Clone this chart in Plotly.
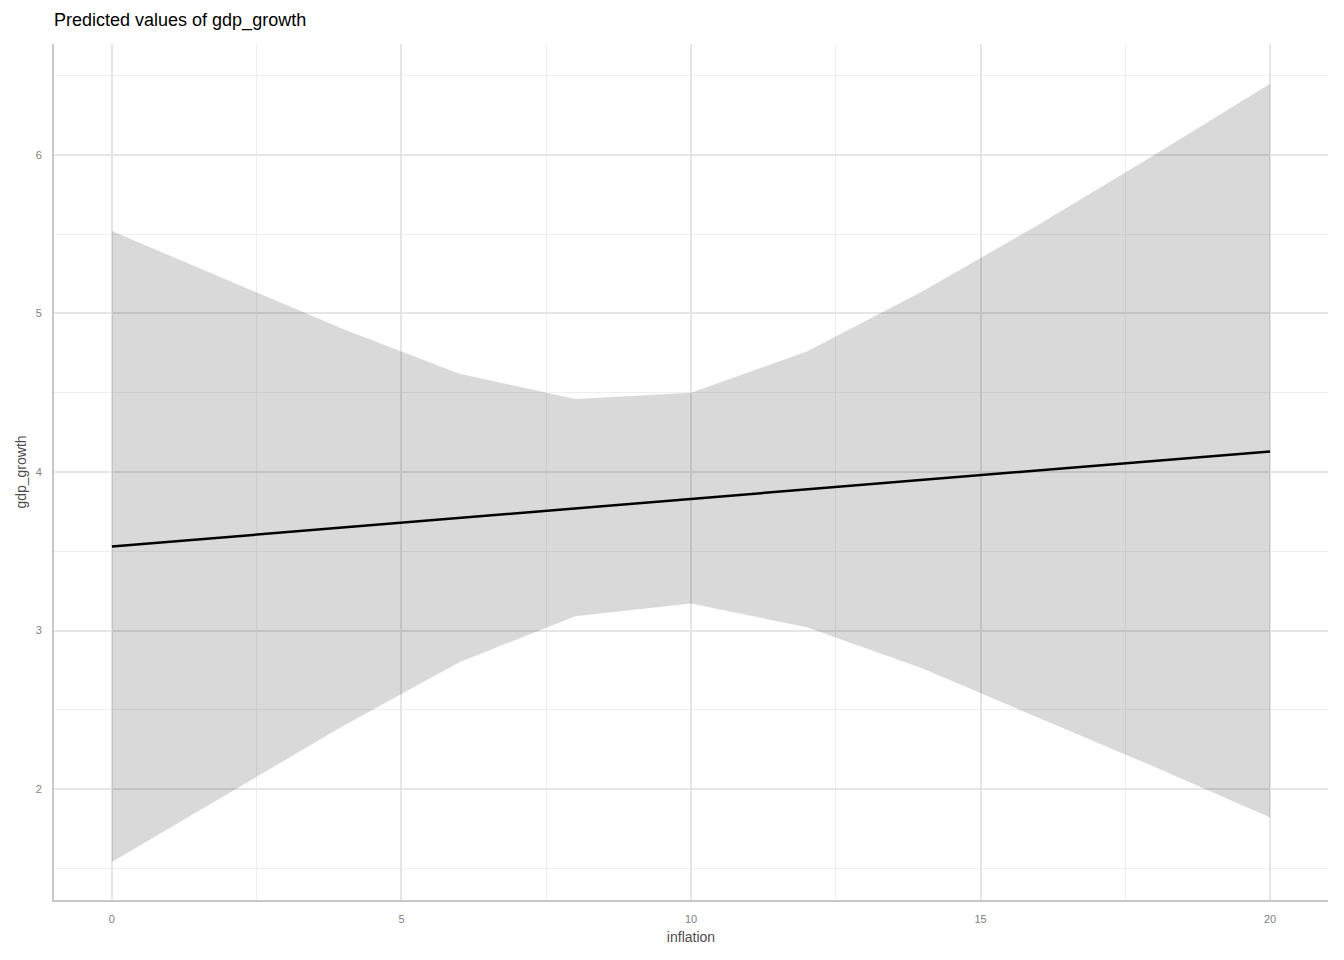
import plotly.graph_objects as go

inflation = [0, 2, 4, 6, 8, 10, 12, 14, 16, 18, 20]
predicted = [3.53, 3.59, 3.65, 3.71, 3.77, 3.83, 3.89, 3.95, 4.01, 4.07, 4.13]
conf_high = [5.52, 5.21, 4.90, 4.62, 4.46, 4.50, 4.76, 5.14, 5.56, 6.00, 6.45]
conf_low = [1.54, 1.97, 2.40, 2.80, 3.09, 3.17, 3.02, 2.76, 2.45, 2.14, 1.82]

fig = go.Figure()
fig.add_trace(go.Scatter(x=inflation, y=conf_low, mode="lines", line=dict(width=0),
                         showlegend=False, hoverinfo="skip"))
fig.add_trace(go.Scatter(x=inflation, y=conf_high, mode="lines", line=dict(width=0),
                         fill="tonexty", fillcolor="rgba(0,0,0,0.15)",
                         showlegend=False, hoverinfo="skip"))
fig.add_trace(go.Scatter(x=inflation, y=predicted, mode="lines",
                         line=dict(color="black", width=2.5), showlegend=False))

fig.update_layout(
    width=1344, height=960,
    margin=dict(l=46, r=24, t=36, b=68),
    plot_bgcolor="white", paper_bgcolor="white",
    font=dict(family="Liberation Sans, Arial, sans-serif"),
    title=dict(text="Predicted values of gdp_growth", x=0, xref="paper",
               y=1 - 12/960, yref="container", yanchor="middle",
               font=dict(size=18, color="black")),
)
fig.update_xaxes(
    range=[-1, 21], tickvals=[0, 5, 10, 15, 20], showgrid=True,
    gridcolor="#e6e6e6", gridwidth=1.5, zeroline=False,
    minor=dict(showgrid=True, tickvals=[2.5, 7.5, 12.5, 17.5], gridcolor="#efefef", gridwidth=1),
    showline=True, linecolor="#c8c8c8", linewidth=2,
    ticks="", tickfont=dict(size=11, color="#808080"), ticklabelstandoff=8,
    title=dict(text="inflation", font=dict(size=14, color="#4d4d4d"), standoff=8),
)
fig.update_yaxes(
    range=[1.30, 6.70], tickvals=[2, 3, 4, 5, 6], showgrid=True,
    gridcolor="#e6e6e6", gridwidth=1.5, zeroline=False,
    minor=dict(showgrid=True, tickvals=[1.5, 2.5, 3.5, 4.5, 5.5, 6.5], gridcolor="#efefef", gridwidth=1),
    showline=True, linecolor="#c8c8c8", linewidth=2,
    ticks="", tickfont=dict(size=11, color="#808080"), ticklabelstandoff=8,
    title=dict(text="gdp_growth", font=dict(size=14, color="#4d4d4d"), standoff=6),
)

fig.write_html("out.html")
